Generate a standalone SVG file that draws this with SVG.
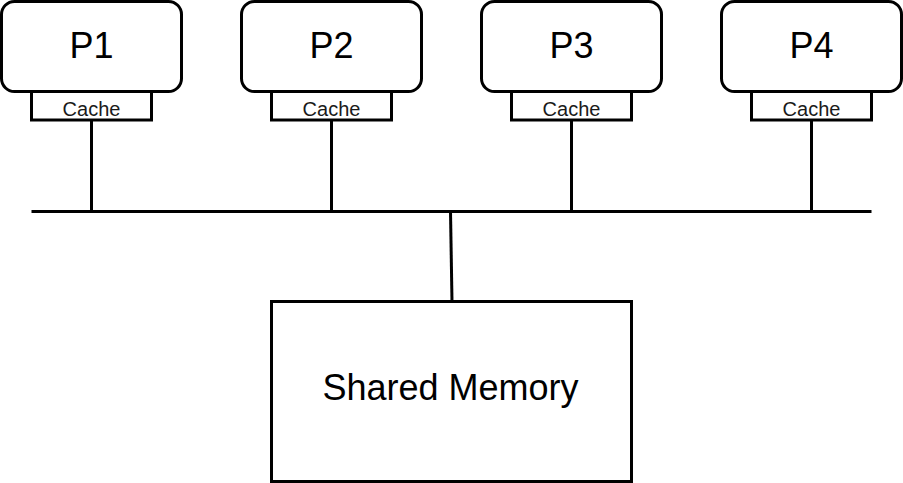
<svg xmlns="http://www.w3.org/2000/svg" width="903" height="483" viewBox="0 0 903 483">
  <style>
    .proc { fill: #ffffff; stroke: #000000; stroke-width: 3; }
    .box { fill: #ffffff; stroke: #000000; stroke-width: 3; }
    .wire { fill: none; stroke: #000000; stroke-width: 3; }
    .big { font-family: "Liberation Sans", Arial, sans-serif; font-size: 36px; fill: #000000; text-anchor: middle; }
    .small { font-family: "Liberation Sans", Arial, sans-serif; font-size: 20px; fill: #1a1a1a; text-anchor: middle; }
  </style>
  <rect width="903" height="483" fill="#ffffff"/>
  <g id="connectors">
    <line class="wire" x1="31.5" y1="211.5" x2="871.5" y2="211.5"/>
    <line class="wire" x1="91.5" y1="120" x2="91.5" y2="211.5"/>
    <line class="wire" x1="331.5" y1="120" x2="331.5" y2="211.5"/>
    <line class="wire" x1="571.5" y1="120" x2="571.5" y2="211.5"/>
    <line class="wire" x1="811.5" y1="120" x2="811.5" y2="211.5"/>
    <line class="wire" x1="450.5" y1="211.5" x2="452" y2="301.5"/>
  </g>
  <g id="p1">
    <rect class="proc" x="1.5" y="1.5" width="180" height="90" rx="13" ry="13"/>
    <text class="big" x="91.5" y="57.5">P1</text>
    <rect class="box" x="31.5" y="91.5" width="120" height="28.5"/>
    <text class="small" x="91.5" y="116">Cache</text>
  </g>
  <g id="p2">
    <rect class="proc" x="241.5" y="1.5" width="180" height="90" rx="13" ry="13"/>
    <text class="big" x="331.5" y="57.5">P2</text>
    <rect class="box" x="271.5" y="91.5" width="120" height="28.5"/>
    <text class="small" x="331.5" y="116">Cache</text>
  </g>
  <g id="p3">
    <rect class="proc" x="481.5" y="1.5" width="180" height="90" rx="13" ry="13"/>
    <text class="big" x="571.5" y="57.5">P3</text>
    <rect class="box" x="511.5" y="91.5" width="120" height="28.5"/>
    <text class="small" x="571.5" y="116">Cache</text>
  </g>
  <g id="p4">
    <rect class="proc" x="721.5" y="1.5" width="180" height="90" rx="13" ry="13"/>
    <text class="big" x="811.5" y="57.5">P4</text>
    <rect class="box" x="751.5" y="91.5" width="120" height="28.5"/>
    <text class="small" x="811.5" y="116">Cache</text>
  </g>
  <g id="memory">
    <rect class="box" x="271.5" y="301.5" width="360" height="180"/>
    <text class="big" x="450.5" y="400">Shared Memory</text>
  </g>
</svg>
